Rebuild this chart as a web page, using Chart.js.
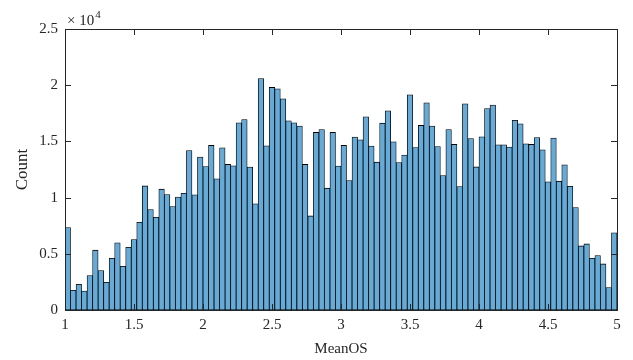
<!DOCTYPE html>
<html>
<head>
<meta charset="utf-8">
<script src="https://cdn.jsdelivr.net/npm/chart.js@4/dist/chart.umd.min.js"></script>
<style>
  html, body { margin: 0; padding: 0; background: #fff; }
  #wrap { width: 633px; height: 360px; }
</style>
</head>
<body>
<div id="wrap"><canvas id="histChart" width="633" height="360"></canvas></div>
<script>
// histogram of MeanOS, 100 bins of width 0.04 from 1 to 5
const binStart = 1;
const binWidth = 0.04;
const counts = [
  7340, 1750, 2290, 1690, 3060, 5320, 3510, 2470, 4600, 5970,
  3890, 5580, 6270, 7810, 11040, 8940, 8250, 10750, 10270, 9200,
  10040, 10390, 14190, 10240, 13600, 12770, 14640, 11670, 14430, 12950,
  12830, 16650, 16950, 12710, 9440, 20600, 14600, 19800, 19680, 18790,
  16830, 16650, 16360, 12950, 8370, 15800, 16060, 10840, 15800, 12800,
  14640, 11520, 15380, 15140, 17190, 14580, 13150, 16620, 17720, 14960,
  13120, 13780, 19150, 14460, 16420, 18430, 16360, 14550, 11970, 16060,
  14730, 10990, 18340, 15260, 12730, 15400, 17930, 18230, 14690, 14690,
  14490, 16870, 16560, 14780, 14730, 15350, 14250, 11400, 15290, 11460,
  12910, 11010, 9120, 5700, 5880, 4600, 4840, 4100, 2000, 6860
];
const xTicks = [1, 1.5, 2, 2.5, 3, 3.5, 4, 4.5, 5];
const xTickLabels = ['1', '1.5', '2', '2.5', '3', '3.5', '4', '4.5', '5'];
const yTicks = [0, 5000, 10000, 15000, 20000, 25000];
const yTickLabels = ['0', '0.5', '1', '1.5', '2', '2.5'];

const axisColor = '#262626';
const serif = '"Liberation Serif", "Times New Roman", serif';

const points = counts.map((c, i) => ({ x: binStart + binWidth * (i + 0.5), y: c }));

// box, inward ticks on all four sides, and the x10^4 exponent
const axesBox = {
  id: 'axesBox',
  afterDatasetsDraw(chart) {
    const { ctx, chartArea: a, scales } = chart;
    const tl = 6;
    ctx.save();
    ctx.strokeStyle = axisColor;
    ctx.lineWidth = 1;
    ctx.beginPath();
    xTicks.forEach(v => {
      const px = Math.round(scales.x.getPixelForValue(v)) + 0.5;
      ctx.moveTo(px, a.bottom); ctx.lineTo(px, a.bottom - tl);
      ctx.moveTo(px, a.top); ctx.lineTo(px, a.top + tl);
    });
    yTicks.forEach(v => {
      const py = Math.round(scales.y.getPixelForValue(v)) + 0.5;
      ctx.moveTo(a.left, py); ctx.lineTo(a.left + tl, py);
      ctx.moveTo(a.right, py); ctx.lineTo(a.right - tl, py);
    });
    ctx.stroke();
    ctx.strokeRect(Math.round(a.left) + 0.5, Math.round(a.top) + 0.5,
      Math.round(a.right - a.left), Math.round(a.bottom - a.top));

    ctx.fillStyle = axisColor;
    ctx.textBaseline = 'alphabetic';
    ctx.textAlign = 'left';
    ctx.font = '15px ' + serif;
    ctx.fillText('\u00d7 10', a.left + 2, a.top - 4);
    const w = ctx.measureText('\u00d7 10').width;
    ctx.font = '11px ' + serif;
    ctx.fillText('4', a.left + 3 + w, a.top - 11);
    ctx.restore();
  }
};

new Chart(document.getElementById('histChart'), {
  type: 'bar',
  data: {
    datasets: [{
      data: points,
      backgroundColor: 'rgb(102,170,215)',
      borderColor: '#000',
      borderWidth: 0.8,
      borderSkipped: false,
      barPercentage: 1,
      categoryPercentage: 1
    }]
  },
  options: {
    responsive: false,
    animation: false,
    layout: { padding: { left: 0, right: 16, top: 29, bottom: 0 } },
    plugins: { legend: { display: false }, tooltip: { enabled: false } },
    scales: {
      x: {
        type: 'linear',
        offset: false,
        min: 1,
        max: 5,
        afterFit(s) { s.height = 50; },
        afterBuildTicks(s) { s.ticks = xTicks.map(v => ({ value: v })); },
        grid: { display: false, drawTicks: false, offset: false },
        border: { display: false },
        ticks: {
          padding: 6,
          color: axisColor,
          font: { family: serif, size: 15 },
          maxRotation: 0,
          callback: (v) => xTickLabels[xTicks.indexOf(v)]
        },
        title: {
          display: true,
          text: 'MeanOS',
          color: axisColor,
          font: { family: serif, size: 15 },
          padding: { top: 0, bottom: 2 }
        }
      },
      y: {
        min: 0,
        max: 25000,
        afterFit(s) { s.width = 65; },
        afterBuildTicks(s) { s.ticks = yTicks.map(v => ({ value: v })); },
        grid: { display: false, drawTicks: false },
        border: { display: false },
        ticks: {
          padding: 7,
          color: axisColor,
          font: { family: serif, size: 15 },
          callback: (v) => yTickLabels[yTicks.indexOf(v)]
        },
        title: {
          display: true,
          text: 'Count',
          color: axisColor,
          font: { family: serif, size: 17 },
          padding: { top: 12, bottom: 0 }
        }
      }
    }
  },
  plugins: [axesBox]
});
</script>
</body>
</html>
